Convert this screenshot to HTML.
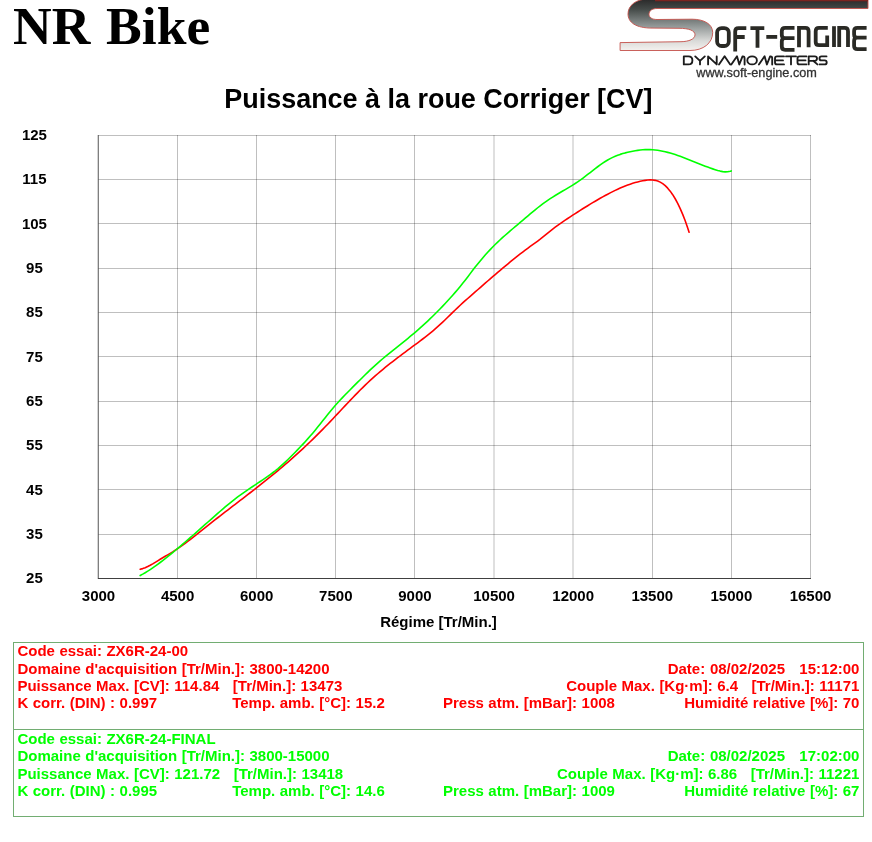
<!DOCTYPE html>
<html><head><meta charset="utf-8"><title>NR Bike</title>
<style>
html,body{margin:0;padding:0;background:#fff;}
body{width:872px;height:842px;position:relative;overflow:hidden;font-family:"Liberation Sans",sans-serif;}
#brand{position:absolute;left:13px;top:-6px;font:bold 53.5px "Liberation Serif",serif;color:#000;white-space:nowrap;line-height:64px;word-spacing:2.2px;letter-spacing:0.05px;}
#title{position:absolute;left:0;width:876.8px;top:84px;text-align:center;font:bold 26.95px "Liberation Sans",sans-serif;color:#000;white-space:nowrap;line-height:30px;}
svg{position:absolute;left:0;top:0;}
#url{position:absolute;left:696.3px;top:66.4px;font:12.7px "Liberation Sans",sans-serif;color:#333;-webkit-text-stroke:0.3px #333;line-height:14px;white-space:nowrap;}
.yl{position:absolute;left:4.4px;width:60px;text-align:center;font:bold 15px "Liberation Sans",sans-serif;line-height:17px;color:#000;}
.xl{position:absolute;top:587px;width:60px;text-align:center;font:bold 15px "Liberation Sans",sans-serif;line-height:17px;color:#000;}
#xt{position:absolute;left:338.5px;width:200px;top:613px;text-align:center;font:bold 15px "Liberation Sans",sans-serif;line-height:17px;color:#000;}
.box{position:absolute;left:13px;width:851px;border:1px solid #72ad72;box-sizing:border-box;font:bold 15px "Liberation Sans",sans-serif;}
.box div{position:absolute;white-space:pre;line-height:17px;word-spacing:0.33px;}
.box div.dt{word-spacing:0.62px;}
.r{color:#ff0000;} .g{color:#00ff00;}
.ra{right:3.6px;text-align:right;}
#all{position:absolute;left:0;top:0;width:872px;height:842px;will-change:transform;}
</style></head><body><div id="all">
<div id="brand">NR Bike</div>
<div id="title">Puissance à la roue Corriger [CV]</div>
<svg width="872" height="842" viewBox="0 0 872 842">
<defs>
<linearGradient id="sg" x1="0" y1="0" x2="0" y2="51" gradientUnits="userSpaceOnUse">
<stop offset="0" stop-color="#2c2c2c"/><stop offset="0.18" stop-color="#444a48"/><stop offset="0.5" stop-color="#8f9594"/><stop offset="0.8" stop-color="#d9dad8"/><stop offset="1" stop-color="#f6f3f0"/>
</linearGradient>
</defs>
<path d="M648,-1 C636,-1 628,5.5 628,14 C628,22.5 636,28.1 652,28.1 L679,28.3 C689,28.3 695,30.6 695,34.8 C695,39 689,41.6 681,41.7 L620.1,42.6 L620.1,50.5 L690,50.5 C703.5,50.5 712.7,43 712.7,32.5 C712.7,24 704,19.2 692,19.2 L657,19.5 C652,19.5 649,17.4 649,14.2 C649,10.9 652,8.5 657,8.5 L868,8.5 L868,-1 Z" fill="url(#sg)" stroke="#c4504a" stroke-width="0.9" stroke-linejoin="round"/>
<rect x="655" y="0" width="213" height="1.3" fill="#7c2420"/>
<g fill="none" stroke="#2a2a25" stroke-width="3.8" stroke-linejoin="miter" stroke-linecap="butt">
<rect x="717.1" y="28.1" width="11.7" height="17.9" rx="4.5" ry="4.5"/>
<path d="M735.2,51.6 L735.2,31.4 Q735.2,28.1 738.5,28.1 L746.3,28.1 M735.2,37 L744.7,37"/>
<path d="M750.4,28.1 L764.3,28.1 M757.5,28.1 L757.5,47.8"/>
<path d="M766.3,36.9 L777.2,36.9"/>
<path d="M794.5,27.9 L785.2,27.9 Q781.8,27.9 781.8,31.2 L781.8,35 Q781.8,38.2 785,38.2 L794.5,38.2 M785,38.2 Q781.8,38.2 781.8,41.5 L781.8,46.6 Q781.8,49.9 785.2,49.9 L794.5,49.9"/>
<path d="M799,47.3 L799,27.9 L805.3,27.9 Q808.6,27.9 808.6,31.2 L808.6,47.3"/>
<path d="M827.8,27.9 L819,27.9 Q815.7,27.9 815.7,31.2 L815.7,41.9 Q815.7,45.2 819,45.2 L827.2,45.2 L827.2,35.4"/>
<path d="M834,26.2 L834,47"/>
<path d="M839.2,47 L839.2,27.9 L844.7,27.9 Q848,27.9 848,31.2 L848,47"/>
<path d="M866.6,27.9 L857.4,27.9 Q854.1,27.9 854.1,31 L854.1,34.5 Q854.1,37.6 857.3,37.6 L866.6,37.6 M857.3,37.6 Q854.1,37.6 854.1,40.9 L854.1,46 Q854.1,49.2 857.4,49.2 L866.6,49.2"/>
</g>
<g fill="none" stroke="#1c1c1c" stroke-width="1.85" stroke-linejoin="round" stroke-linecap="round">
<path d="M683.8,56.4 L683.8,64.4 L688.4,64.4 Q692.4,64.4 692.4,60.4 Q692.4,56.4 688.4,56.4 Z"/>
<path d="M695.2,56.4 L700,60.9 L704.8,56.4 M700,60.9 L700,64.4"/>
<path d="M708.1,64.4 L708.1,56.4 L716.7,64.4 L716.7,56.4"/>
<path d="M719,64.5 L724.6,56.2 L730.2,64.5"/>
<path d="M731.3,64.5 L737,56.2 L739.3,64.5 L742.5,56.4 Q744.6,56 744.6,58.5 L744.6,64.5"/>
<ellipse cx="752.1" cy="60.4" rx="4.8" ry="4"/>
<path d="M758.9,64.5 L764.6,56.2 L766.9,64.5 L770.1,56.4 Q772.2,56 772.2,58.5 L772.2,64.5"/>
<path d="M784,56.4 L777,56.4 Q775,56.4 775,58.4 L775,62.4 Q775,64.4 777,64.4 L784,64.4 M775,60.4 L783,60.4"/>
<path d="M786,56.4 L796,56.4 M791,56.4 L791,64.4"/>
<path d="M806.5,56.4 L799.5,56.4 Q797.5,56.4 797.5,58.4 L797.5,62.4 Q797.5,64.4 799.5,64.4 L806.5,64.4 M797.5,60.4 L805.5,60.4"/>
<path d="M808.7,64.4 L808.7,56.4 L814.7,56.4 Q817,56.4 817,58.6 Q817,60.8 814.7,60.8 L808.7,60.8 M813.2,60.8 L817.4,64.4"/>
<path d="M826.5,56.4 L821.5,56.4 Q819.5,56.4 819.5,58.4 Q819.5,60.4 821.5,60.4 L824.7,60.4 Q826.7,60.4 826.7,62.4 Q826.7,64.4 824.7,64.4 L819.5,64.4"/>
</g>

<g>
<rect x="177" y="135" width="1" height="443" fill="rgba(0,0,0,0.25)"/>
<rect x="256" y="135" width="1" height="443" fill="rgba(0,0,0,0.25)"/>
<rect x="335" y="135" width="1" height="443" fill="rgba(0,0,0,0.25)"/>
<rect x="414" y="135" width="1" height="443" fill="rgba(0,0,0,0.25)"/>
<rect x="493.5" y="135" width="1" height="443" fill="rgba(0,0,0,0.25)"/>
<rect x="572.5" y="135" width="1" height="443" fill="rgba(0,0,0,0.25)"/>
<rect x="652" y="135" width="1" height="443" fill="rgba(0,0,0,0.25)"/>
<rect x="731" y="135" width="1" height="443" fill="rgba(0,0,0,0.25)"/>
<rect x="810" y="135" width="1" height="443" fill="rgba(0,0,0,0.25)"/>
<rect x="98" y="135" width="713" height="1" fill="rgba(0,0,0,0.25)"/>
<rect x="98" y="179" width="713" height="1" fill="rgba(0,0,0,0.25)"/>
<rect x="98" y="223" width="713" height="1" fill="rgba(0,0,0,0.25)"/>
<rect x="98" y="268" width="713" height="1" fill="rgba(0,0,0,0.25)"/>
<rect x="98" y="312" width="713" height="1" fill="rgba(0,0,0,0.25)"/>
<rect x="98" y="356" width="713" height="1" fill="rgba(0,0,0,0.25)"/>
<rect x="98" y="401" width="713" height="1" fill="rgba(0,0,0,0.25)"/>
<rect x="98" y="445" width="713" height="1" fill="rgba(0,0,0,0.25)"/>
<rect x="98" y="489" width="713" height="1" fill="rgba(0,0,0,0.25)"/>
<rect x="98" y="534" width="713" height="1" fill="rgba(0,0,0,0.25)"/>
<rect x="97.75" y="135" width="1" height="444" fill="#555"/>
<rect x="98" y="578" width="713" height="1" fill="#404040"/>
</g>
<path d="M140.2,569.35 L142.7,568.62 L145.2,567.67 L147.7,566.54 L150.2,565.26 L152.7,563.87 L155.2,562.38 L157.7,560.83 L160.2,559.28 L162.7,557.75 L165.2,556.29 L167.7,554.86 L170.2,553.40 L172.7,551.88 L175.2,550.28 L177.7,548.62 L180.2,546.89 L182.7,545.11 L185.2,543.29 L187.7,541.41 L190.2,539.51 L192.7,537.57 L195.2,535.60 L197.7,533.62 L200.2,531.63 L202.7,529.63 L205.2,527.62 L207.7,525.63 L210.2,523.64 L212.7,521.67 L215.2,519.71 L217.7,517.75 L220.2,515.81 L222.7,513.88 L225.2,511.95 L227.7,510.02 L230.2,508.10 L232.7,506.19 L235.2,504.27 L237.7,502.36 L240.2,500.44 L242.7,498.52 L245.2,496.60 L247.7,494.68 L250.2,492.75 L252.7,490.81 L255.2,488.86 L257.7,486.91 L260.2,484.94 L262.7,482.97 L265.2,480.98 L267.7,478.97 L270.2,476.96 L272.7,474.92 L275.2,472.87 L277.7,470.80 L280.2,468.71 L282.7,466.60 L285.2,464.46 L287.7,462.31 L290.2,460.13 L292.7,457.93 L295.2,455.70 L297.7,453.45 L300.2,451.17 L302.7,448.86 L305.2,446.53 L307.7,444.17 L310.2,441.78 L312.7,439.36 L315.2,436.91 L317.7,434.44 L320.2,431.92 L322.7,429.38 L325.2,426.81 L327.7,424.20 L330.2,421.58 L332.7,418.93 L335.2,416.28 L337.7,413.61 L340.2,410.94 L342.7,408.27 L345.2,405.61 L347.7,402.96 L350.2,400.33 L352.7,397.71 L355.2,395.12 L357.7,392.57 L360.2,390.04 L362.7,387.56 L365.2,385.13 L367.7,382.74 L370.2,380.41 L372.7,378.14 L375.2,375.91 L377.7,373.74 L380.2,371.61 L382.7,369.52 L385.2,367.47 L387.7,365.46 L390.2,363.47 L392.7,361.52 L395.2,359.59 L397.7,357.68 L400.2,355.79 L402.7,353.91 L405.2,352.05 L407.7,350.19 L410.2,348.34 L412.7,346.48 L415.2,344.63 L417.7,342.77 L420.2,340.89 L422.7,338.99 L425.2,337.07 L427.7,335.10 L430.2,333.09 L432.7,331.03 L435.2,328.91 L437.7,326.72 L440.2,324.46 L442.7,322.12 L445.2,319.73 L447.7,317.29 L450.2,314.83 L452.7,312.38 L455.2,309.95 L457.7,307.56 L460.2,305.23 L462.7,302.95 L465.2,300.70 L467.7,298.48 L470.2,296.29 L472.7,294.10 L475.2,291.92 L477.7,289.74 L480.2,287.55 L482.7,285.37 L485.2,283.19 L487.7,281.02 L490.2,278.85 L492.7,276.69 L495.2,274.55 L497.7,272.41 L500.2,270.29 L502.7,268.18 L505.2,266.09 L507.7,264.02 L510.2,261.97 L512.7,259.94 L515.2,257.93 L517.7,255.95 L520.2,253.99 L522.7,252.07 L525.2,250.17 L527.7,248.30 L530.2,246.47 L532.7,244.67 L535.2,242.86 L537.7,241.02 L540.2,239.12 L542.7,237.12 L545.2,235.07 L547.7,233.01 L550.2,231.01 L552.7,229.08 L555.2,227.20 L557.7,225.37 L560.2,223.60 L562.7,221.86 L565.2,220.16 L567.7,218.48 L570.2,216.83 L572.7,215.20 L575.2,213.58 L577.7,211.98 L580.2,210.38 L582.7,208.80 L585.2,207.24 L587.7,205.70 L590.2,204.17 L592.7,202.67 L595.2,201.19 L597.7,199.73 L600.2,198.30 L602.7,196.90 L605.2,195.52 L607.7,194.18 L610.2,192.88 L612.7,191.61 L615.2,190.39 L617.7,189.22 L620.2,188.09 L622.7,187.02 L625.2,186.01 L627.7,185.06 L630.2,184.17 L632.7,183.34 L635.2,182.59 L637.7,181.92 L640.2,181.32 L642.7,180.80 L645.2,180.36 L647.7,180.05 L650.2,179.90 L652.7,179.98 L655.2,180.34 L657.7,181.03 L660.2,182.12 L662.7,183.64 L665.2,185.65 L667.7,188.15 L670.2,191.15 L672.7,194.68 L675.2,198.75 L677.7,203.38 L680.2,208.59 L682.7,214.39 L685.2,220.83 L687.7,227.93 L689.1,232.21" fill="none" stroke="#ff0000" stroke-width="1.6" stroke-linejoin="round" stroke-linecap="round"/>
<path d="M140.2,575.54 L142.7,574.17 L145.2,572.71 L147.7,571.18 L150.2,569.57 L152.7,567.89 L155.2,566.15 L157.7,564.36 L160.2,562.50 L162.7,560.60 L165.2,558.65 L167.7,556.66 L170.2,554.64 L172.7,552.58 L175.2,550.50 L177.7,548.40 L180.2,546.28 L182.7,544.14 L185.2,541.99 L187.7,539.83 L190.2,537.66 L192.7,535.48 L195.2,533.29 L197.7,531.09 L200.2,528.88 L202.7,526.67 L205.2,524.46 L207.7,522.24 L210.2,520.03 L212.7,517.81 L215.2,515.61 L217.7,513.41 L220.2,511.24 L222.7,509.09 L225.2,506.97 L227.7,504.88 L230.2,502.83 L232.7,500.83 L235.2,498.87 L237.7,496.97 L240.2,495.13 L242.7,493.33 L245.2,491.57 L247.7,489.85 L250.2,488.16 L252.7,486.48 L255.2,484.82 L257.7,483.17 L260.2,481.52 L262.7,479.85 L265.2,478.16 L267.7,476.42 L270.2,474.62 L272.7,472.76 L275.2,470.82 L277.7,468.78 L280.2,466.64 L282.7,464.41 L285.2,462.10 L287.7,459.72 L290.2,457.28 L292.7,454.78 L295.2,452.24 L297.7,449.66 L300.2,447.05 L302.7,444.39 L305.2,441.68 L307.7,438.91 L310.2,436.08 L312.7,433.17 L315.2,430.18 L317.7,427.10 L320.2,423.96 L322.7,420.80 L325.2,417.63 L327.7,414.51 L330.2,411.43 L332.7,408.43 L335.2,405.52 L337.7,402.70 L340.2,399.98 L342.7,397.33 L345.2,394.74 L347.7,392.20 L350.2,389.69 L352.7,387.19 L355.2,384.69 L357.7,382.19 L360.2,379.70 L362.7,377.22 L365.2,374.76 L367.7,372.33 L370.2,369.94 L372.7,367.59 L375.2,365.30 L377.7,363.07 L380.2,360.89 L382.7,358.75 L385.2,356.66 L387.7,354.60 L390.2,352.56 L392.7,350.55 L395.2,348.55 L397.7,346.55 L400.2,344.56 L402.7,342.56 L405.2,340.55 L407.7,338.53 L410.2,336.48 L412.7,334.39 L415.2,332.28 L417.7,330.12 L420.2,327.91 L422.7,325.67 L425.2,323.38 L427.7,321.05 L430.2,318.67 L432.7,316.25 L435.2,313.78 L437.7,311.27 L440.2,308.71 L442.7,306.11 L445.2,303.46 L447.7,300.76 L450.2,298.02 L452.7,295.22 L455.2,292.38 L457.7,289.46 L460.2,286.46 L462.7,283.37 L465.2,280.18 L467.7,276.91 L470.2,273.61 L472.7,270.32 L475.2,267.10 L477.7,263.97 L480.2,260.92 L482.7,257.96 L485.2,255.09 L487.7,252.32 L490.2,249.63 L492.7,247.03 L495.2,244.52 L497.7,242.10 L500.2,239.75 L502.7,237.46 L505.2,235.23 L507.7,233.05 L510.2,230.89 L512.7,228.76 L515.2,226.65 L517.7,224.54 L520.2,222.43 L522.7,220.30 L525.2,218.16 L527.7,216.03 L530.2,213.92 L532.7,211.83 L535.2,209.77 L537.7,207.75 L540.2,205.79 L542.7,203.90 L545.2,202.08 L547.7,200.34 L550.2,198.68 L552.7,197.07 L555.2,195.53 L557.7,194.01 L560.2,192.53 L562.7,191.06 L565.2,189.59 L567.7,188.11 L570.2,186.60 L572.7,185.06 L575.2,183.47 L577.7,181.82 L580.2,180.10 L582.7,178.29 L585.2,176.41 L587.7,174.49 L590.2,172.53 L592.7,170.57 L595.2,168.64 L597.7,166.75 L600.2,164.93 L602.7,163.18 L605.2,161.54 L607.7,160.01 L610.2,158.62 L612.7,157.37 L615.2,156.26 L617.7,155.27 L620.2,154.38 L622.7,153.60 L625.2,152.90 L627.7,152.27 L630.2,151.70 L632.7,151.19 L635.2,150.73 L637.7,150.34 L640.2,150.02 L642.7,149.78 L645.2,149.63 L647.7,149.57 L650.2,149.60 L652.7,149.74 L655.2,149.97 L657.7,150.30 L660.2,150.70 L662.7,151.18 L665.2,151.74 L667.7,152.36 L670.2,153.05 L672.7,153.80 L675.2,154.60 L677.7,155.44 L680.2,156.33 L682.7,157.25 L685.2,158.21 L687.7,159.19 L690.2,160.19 L692.7,161.20 L695.2,162.21 L697.7,163.23 L700.2,164.23 L702.7,165.22 L705.2,166.19 L707.7,167.12 L710.2,168.02 L712.7,168.88 L715.2,169.69 L717.7,170.44 L720.2,171.10 L722.7,171.59 L725.2,171.84 L727.7,171.77 L730.2,171.30 L731.3,170.94" fill="none" stroke="#00ff00" stroke-width="1.6" stroke-linejoin="round" stroke-linecap="round"/>
</svg>
<div class="yl" style="top:126.00px">125</div>
<div class="yl" style="top:170.33px">115</div>
<div class="yl" style="top:214.67px">105</div>
<div class="yl" style="top:259.00px">95</div>
<div class="yl" style="top:303.33px">85</div>
<div class="yl" style="top:347.66px">75</div>
<div class="yl" style="top:392.00px">65</div>
<div class="yl" style="top:436.33px">55</div>
<div class="yl" style="top:480.66px">45</div>
<div class="yl" style="top:525.00px">35</div>
<div class="yl" style="top:569.33px">25</div>
<div class="xl" style="left:68.5px">3000</div>
<div class="xl" style="left:147.6px">4500</div>
<div class="xl" style="left:226.7px">6000</div>
<div class="xl" style="left:305.8px">7500</div>
<div class="xl" style="left:384.9px">9000</div>
<div class="xl" style="left:464.1px">10500</div>
<div class="xl" style="left:543.2px">12000</div>
<div class="xl" style="left:622.3px">13500</div>
<div class="xl" style="left:701.4px">15000</div>
<div class="xl" style="left:780.5px">16500</div>

<div id="url">www.soft-engine.com</div>
<div id="xt">Régime [Tr/Min.]</div>
<div class="box r" style="top:642px;height:88px;">
<div style="left:3.4px;top:-1px">Code essai: ZX6R-24-00</div>
<div style="left:3.4px;top:17px">Domaine d'acquisition [Tr/Min.]: 3800-14200</div>
<div style="left:3.4px;top:34px">Puissance Max. [CV]: 114.84   [Tr/Min.]: 13473</div>
<div style="left:3.4px;top:51px">K corr. (DIN) : 0.997</div>
<div style="left:218.2px;top:51px">Temp. amb. [°C]: 15.2</div>
<div style="left:429px;top:51px">Press atm. [mBar]: 1008</div>
<div class="ra dt" style="top:17px">Date: 08/02/2025   15:12:00</div>
<div class="ra" style="top:34px">Couple Max. [Kg·m]: 6.4   [Tr/Min.]: 11171</div>
<div class="ra" style="top:51px">Humidité relative [%]: 70</div>
</div>
<div class="box g" style="top:729px;height:88px;">
<div style="left:3.4px;top:0px">Code essai: ZX6R-24-FINAL</div>
<div style="left:3.4px;top:17.2px">Domaine d'acquisition [Tr/Min.]: 3800-15000</div>
<div style="left:3.4px;top:34.7px">Puissance Max. [CV]: 121.72   [Tr/Min.]: 13418</div>
<div style="left:3.4px;top:52px">K corr. (DIN) : 0.995</div>
<div style="left:218.2px;top:52px">Temp. amb. [°C]: 14.6</div>
<div style="left:429px;top:52px">Press atm. [mBar]: 1009</div>
<div class="ra dt" style="top:17.2px">Date: 08/02/2025   17:02:00</div>
<div class="ra" style="top:34.7px">Couple Max. [Kg·m]: 6.86   [Tr/Min.]: 11221</div>
<div class="ra" style="top:52px">Humidité relative [%]: 67</div>
</div>
</div></body></html>
